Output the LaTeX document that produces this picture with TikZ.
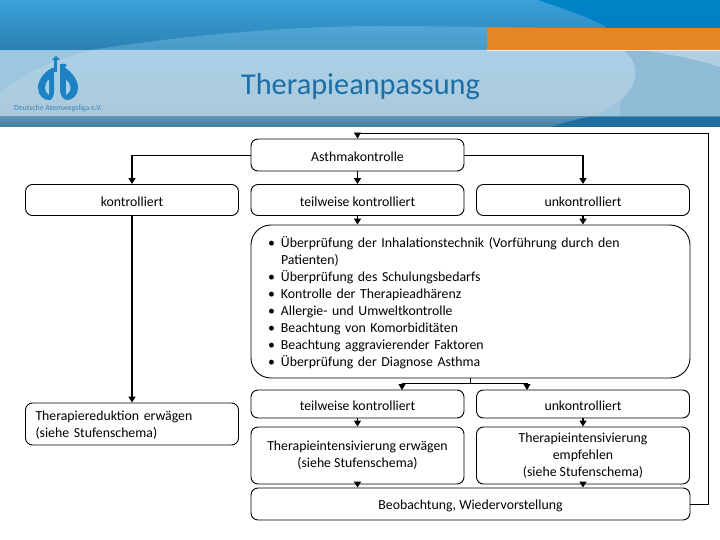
\documentclass[tikz,border=0pt]{standalone}
\usepackage{fontspec}
\setmainfont{Carlito}
\usetikzlibrary{arrows.meta,calc}
\definecolor{titleblue}{HTML}{1B6EA6}
\definecolor{logoblue}{HTML}{1C82C4}
\definecolor{hdarkT}{HTML}{0085C9}
\definecolor{hdarkB}{HTML}{0079BC}
\definecolor{hmidT}{HTML}{3AA2DB}
\definecolor{hmidB}{HTML}{2C80B2}
\definecolor{hswT}{HTML}{4FA6D4}
\definecolor{hswB}{HTML}{4A9AC6}
\definecolor{horange}{HTML}{E58526}
\definecolor{hlightR}{HTML}{8FBBD6}
\definecolor{hlightE}{HTML}{9DC6DF}
\definecolor{hlight}{HTML}{ABD0E6}
\definecolor{hlightB}{HTML}{ABC9DC}
\definecolor{hstripT}{HTML}{5E93B3}
\definecolor{hstripB}{HTML}{427FA3}
\definecolor{hstripD}{HTML}{1E6E9F}
\tikzset{
  box/.style={draw=black,line width=0.9pt,rounded corners=7pt,align=center,inner sep=0pt,font=\fontsize{13.8}{17}\selectfont,execute at begin node={\rule{0pt}{12.5pt}}},
  colbox/.style={box,minimum width=213pt},
  conn/.style={draw=black,line width=1.5pt,-{Triangle[length=6pt,width=7pt]}},
  thin conn/.style={draw=black,line width=0.9pt,-{Triangle[length=6pt,width=7pt]}},
  plainline/.style={draw=black,line width=0.9pt}
}
\newcommand{\bul}{\makebox[0pt][r]{•\hspace{6pt}}}
\begin{document}
\begin{tikzpicture}[x=1pt,y=-1pt]
\useasboundingbox (0,0) rectangle (720,540);
% header
\begin{scope}
\clip (0,0) rectangle (720,127);
\shade[top color=hdarkT,bottom color=hdarkB] (0,0) rectangle (720,50);
\shade[top color=hmidT,bottom color=hmidB] (0,0) -- (537,0) .. controls (565,9) and (590,18) .. (606,27) -- (625,50) -- (0,50) -- cycle;
\shade[top color=hswT,bottom color=hswB] (92,50) .. controls (190,34) and (300,26) .. (380,26) .. controls (440,26) and (540,28) .. (600,28) -- (625,50) -- cycle;
\fill[horange] (487,28) rectangle (720,50);
\fill[hlightR] (0,50) rectangle (720,117);
\fill[hlightR!70!white] (640,50) .. controls (670,54) and (700,60) .. (720,67) -- (720,50) -- cycle;
\fill[hlightE] (0,50) rectangle (620,117);
\shade[top color=hlight,bottom color=hlightB] (0,92) .. controls (25,72) and (60,58) .. (92,50) -- (622,50) .. controls (636,58) and (640,75) .. (630,90) .. controls (620,105) and (600,113) .. (588,117) -- (0,117) -- cycle;
\shade[top color=hstripT,bottom color=hstripB] (0,117) rectangle (720,127);
\fill[hstripD] (551,127) .. controls (565,122) and (578,119) .. (588,117) -- (720,117) -- (720,127) -- cycle;
\fill[white,opacity=.7] (487,50) rectangle (720,51);
\end{scope}
% logo
\fill[logoblue] (52,60) -- (56,56) -- (60,60) -- (57,60) -- (57,72) -- (54,72) -- (54,60) -- cycle;
\fill[logoblue] (52,68) .. controls (44,72) and (38,80) .. (38,88) .. controls (38,95) and (44,101) .. (50,100) .. controls (53,99) and (54,95) .. (54,90) -- (54,68) -- cycle;
\fill[logoblue] (60,64) -- (66,64) -- (66,67) -- (64,67) .. controls (72,72) and (78,80) .. (78,88) .. controls (78,95) and (72,101) .. (66,100) .. controls (63,99) and (60,95) .. (60,90) -- cycle;
\fill[hlight] (48,80) .. controls (44,85) and (44,92) .. (49,95) -- (49,80) -- cycle;
\fill[hlight] (66,80) .. controls (72,84) and (72,92) .. (66,95) -- cycle;
\node[font=\fontsize{7.8}{8}\selectfont,text=titleblue!85,inner sep=0pt] (brand) at (58,108) {Deutsche Atemwegsliga e.V.};
\node[font=\fontsize{30.3}{32}\selectfont,text=titleblue,inner sep=0pt] (title) at (360.5,87) {Therapieanpassung};
% boxes
\node[colbox,minimum height=32pt] (asth) at (357.5,155) {Asthmakontrolle};
\node[colbox,minimum height=31pt] (ctrl) at (132,200) {kontrolliert};
\node[colbox,minimum height=31pt] (teil) at (357.5,200) {teilweise kontrolliert};
\node[colbox,minimum height=31pt] (unko) at (583,200) {unkontrolliert};
\node[box,rounded corners=20pt,minimum width=439pt,minimum height=153pt,align=left,text width=379pt,inner xsep=30pt] (big) at (470.5,301.5) {%
\bul Überprüfung der Inhalationstechnik (Vorführung durch den\\
Patienten)\\
\bul Überprüfung des Schulungsbedarfs\\
\bul Kontrolle der Therapieadhärenz\\
\bul Allergie- und Umweltkontrolle\\
\bul Beachtung von Komorbiditäten\\
\bul Beachtung aggravierender Faktoren\\
\bul Überprüfung der Diagnose Asthma};
\node[colbox,minimum height=28pt] (teilb) at (357.5,404) {teilweise kontrolliert};
\node[colbox,minimum height=28pt] (unkob) at (583,404) {unkontrolliert};
\node[colbox,minimum height=57pt] (intA) at (357.5,455.5) {Therapieintensivierung erwägen\\(siehe Stufenschema)};
\node[colbox,minimum height=57pt] (intB) at (583,455.5) {Therapieintensivierung\\empfehlen\\(siehe Stufenschema)};
\node[box,minimum width=439pt,minimum height=32pt] (beob) at (470.5,504) {Beobachtung, Wiedervorstellung};
\node[colbox,minimum height=42pt,align=left,text width=193pt,inner xsep=10pt] (redu) at (132,424) {Therapiereduktion erwägen\\(siehe Stufenschema)};
% connectors
\draw[conn] (asth.south) -- (teil.north);
\coordinate (cornerR) at (asth.east -| unko.north);
\coordinate (cornerL) at (asth.west -| ctrl.north);
\draw[plainline] (asth.east) -- (cornerR);
\draw[conn] (cornerR) -- (unko.north);
\draw[plainline] (asth.west) -- (cornerL);
\draw[conn] (cornerL) -- (ctrl.north);
\draw[conn] (ctrl.south) -- (redu.north);
\draw[conn] (teil.south) -- (teil.south |- big.north);
\draw[conn] (unko.south) -- (unko.south |- big.north);
\coordinate (split) at (470.5,383.5);
\coordinate (splitL) at (402,383.5);
\coordinate (splitR) at (527,383.5);
\coordinate (endL) at (402,390);
\coordinate (endR) at (527,390);
\draw[plainline] (big.south) -- (split);
\draw[thin conn] (split) -- (splitL) -- (endL);
\draw[thin conn] (split) -- (splitR) -- (endR);
\draw[conn] (teilb.south) -- (intA.north);
\draw[conn] (unkob.south) -- (intB.north);
\draw[conn] (intA.south) -- (intA.south |- beob.north);
\draw[conn] (intB.south) -- (intB.south |- beob.north);
\coordinate (loopA) at (708,504);
\coordinate (loopB) at (708,133);
\coordinate (loopC) at (357.5,133);
\draw[thin conn] (beob.east) -- (loopA) -- (loopB) -- (loopC) -- (asth.north);
\end{tikzpicture}
\end{document}
